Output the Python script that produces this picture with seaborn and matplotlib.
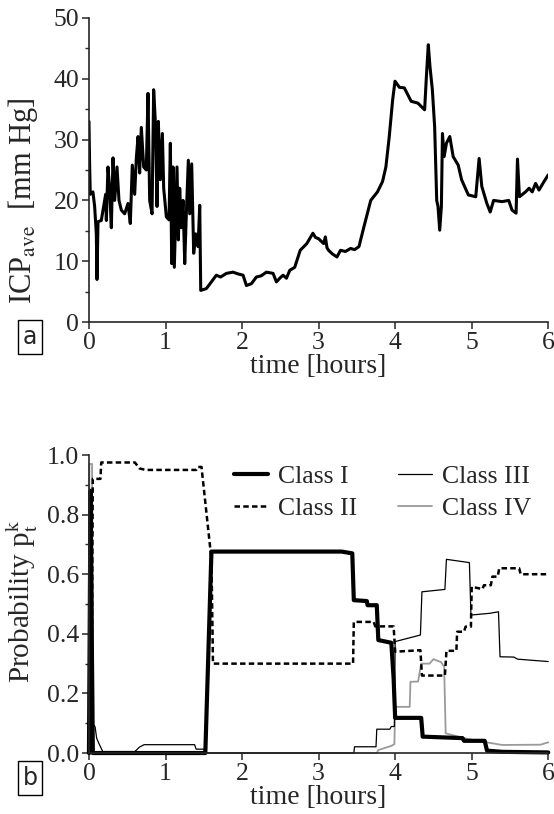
import numpy as np
import pandas as pd
import matplotlib
matplotlib.use("Agg")
import matplotlib.pyplot as plt
import seaborn as sns

# panel a: averaged ICP trace (hours, mm Hg)
t_icp = [0.0, 0.009, 0.017, 0.052, 0.074, 0.096, 0.105, 0.118, 0.161, 0.183,
         0.218, 0.227, 0.248, 0.270, 0.292, 0.314, 0.336, 0.366, 0.392, 0.423,
         0.466, 0.510, 0.540, 0.566, 0.597, 0.619, 0.641, 0.662, 0.684, 0.715,
         0.749, 0.771, 0.793, 0.824, 0.845, 0.871, 0.889, 0.906, 0.932, 0.959,
         0.976, 1.011, 1.046, 1.063, 1.081, 1.098, 1.115, 1.133, 1.150, 1.168,
         1.185, 1.207, 1.229, 1.251, 1.272, 1.298, 1.316, 1.342, 1.368, 1.394,
         1.425, 1.447, 1.460, 1.534, 1.599, 1.664, 1.720, 1.795, 1.882, 1.950,
         2.013, 2.057, 2.122, 2.187, 2.250, 2.318, 2.405, 2.449, 2.500, 2.536,
         2.580, 2.623, 2.688, 2.760, 2.846, 2.925, 2.960, 3.000, 3.066, 3.088,
         3.110, 3.130, 3.180, 3.240, 3.286, 3.350, 3.418, 3.470, 3.527, 3.593,
         3.681, 3.769, 3.835, 3.879, 3.923, 3.967, 3.998, 4.055, 4.120, 4.165,
         4.209, 4.297, 4.385, 4.407, 4.433, 4.455, 4.486, 4.516, 4.543, 4.560,
         4.582, 4.604, 4.618, 4.640, 4.670, 4.714, 4.758, 4.824, 4.868, 4.956,
         5.053, 5.097, 5.132, 5.198, 5.242, 5.286, 5.396, 5.484, 5.527, 5.580,
         5.598, 5.624, 5.703, 5.750, 5.791, 5.835, 5.879, 5.945, 6.0]
icp = [33, 25.5, 21, 21.4, 19, 14.5, 7, 16.5, 16.7, 18.4,
       21, 16.7, 25.5, 22, 15.5, 27, 20, 25.5, 20, 18.4,
       17.8, 19.5, 16.2, 25.8, 21, 27, 30.5, 24.5, 32, 25.5,
       25, 37.6, 20, 17.8, 38.2, 32, 19, 33, 23.4, 31,
       22, 17.3, 16.8, 29.4, 9.6, 25.5, 9, 17.8, 25.5, 13.5,
       22, 15.5, 20, 9.6, 17.8, 26.6, 17.8, 26, 11.3, 14.5,
       12.4, 19.2, 5.2, 5.5, 6.6, 7.7, 7.4, 8, 8.2, 7.9,
       7.7, 6, 6.3, 7.4, 7.6, 8.2, 8, 6.6, 7.3, 7.7,
       7.2, 8.5, 9, 11.8, 12.9, 14.6, 13.9, 13.7, 12.9, 14,
       12.2, 11.8, 11.2, 10.7, 11.8, 11.6, 12.1, 11.9, 12.4, 15.7,
       20, 21.4, 23.1, 25.5, 30.5, 36.5, 39.6, 38.6, 38.5, 37.4,
       36.3, 36, 34.9, 40.1, 45.6, 42, 38.2, 32.1, 20, 19,
       15.1, 19, 31, 27.2, 29.4, 30.5, 27.2, 25.8, 23.4, 20.9,
       20.6, 26.9, 22.3, 19.5, 18.1, 20, 19.8, 20, 18.4, 17.9,
       26.8, 20.6, 21.4, 22.0, 21.4, 22.8, 21.7, 23.1, 24.2]

# panel b: class probabilities
t_c1 = [0.0, 0.02, 0.05, 1.52, 1.60, 3.30, 3.44, 3.46, 3.63, 3.64, 3.76, 3.78,
        3.95, 3.98, 4.00, 4.34, 4.36, 4.88, 4.90, 5.17, 5.20, 5.40, 6.0]
p_c1 = [0.0, 0.88, 0.0, 0.0, 0.676, 0.676, 0.67, 0.513, 0.51, 0.496, 0.496, 0.379,
        0.37, 0.25, 0.118, 0.118, 0.055, 0.05, 0.041, 0.041, 0.008, 0.004, 0.002]

t_c2 = [0.0, 0.03, 0.05, 0.15, 0.16, 0.60, 0.66, 0.74, 1.40, 1.42,
        1.47, 1.60, 1.62, 3.45, 3.46, 3.72, 3.74, 3.98, 4.00, 4.33,
        4.35, 4.65, 4.67, 4.80, 4.81, 4.90, 4.92, 4.99, 5.00, 5.14,
        5.16, 5.25, 5.27, 5.34, 5.36, 5.62, 5.64, 6.0]
p_c2 = [0.0, 0.0, 0.92, 0.92, 0.975, 0.975, 0.955, 0.95, 0.95, 0.96,
        0.96, 0.65, 0.30, 0.30, 0.44, 0.44, 0.425, 0.425, 0.34, 0.345,
        0.26, 0.26, 0.343, 0.343, 0.407, 0.407, 0.424, 0.424, 0.558, 0.55,
        0.563, 0.563, 0.592, 0.592, 0.62, 0.62, 0.60, 0.60]

t_c3 = [0.0, 0.04, 0.08, 0.10, 0.13, 0.18, 0.60, 0.66, 0.72, 1.38,
        1.40, 1.50, 1.52, 3.46, 3.47, 3.75, 3.76, 3.93, 3.95, 3.99,
        4.00, 4.33, 4.35, 4.65, 4.67, 4.97, 4.99, 5.24, 5.35, 5.37,
        5.55, 5.60, 6.0]
p_c3 = [0.0, 0.10, 0.088, 0.05, 0.032, 0.005, 0.005, 0.02, 0.028, 0.028,
        0.013, 0.013, 0.0, 0.0, 0.021, 0.021, 0.08, 0.08, 0.089, 0.089,
        0.374, 0.396, 0.541, 0.549, 0.65, 0.639, 0.463, 0.469, 0.474, 0.323,
        0.322, 0.315, 0.307]

t_c4 = [0.0, 0.005, 0.04, 0.06, 3.76, 3.78, 3.95, 3.99, 4.00, 4.19, 4.20, 4.30,
        4.34, 4.45, 4.50, 4.60, 4.64, 4.66, 4.75, 4.90, 5.10, 5.40, 5.90, 6.0]
p_c4 = [0.12, 0.97, 0.97, 0.0, 0.0, 0.01, 0.024, 0.03, 0.155, 0.155, 0.239, 0.24,
        0.30, 0.30, 0.315, 0.305, 0.29, 0.066, 0.06, 0.05, 0.04, 0.027, 0.028, 0.036]

class_names = ["Class I", "Class II", "Class III", "Class IV"]

sns.set_style("ticks")
plt.rcParams['font.family'] = ['Liberation Serif', 'DejaVu Serif']
plt.rcParams['mathtext.fontset'] = 'stix'
plt.rcParams['axes.linewidth'] = 1.2

fs_tick = 18.5
fs_lab = 20
fig = plt.figure(figsize=(5.54, 8.14), dpi=100)
ax1 = fig.add_axes([0.1606, 0.6044, 0.829, 0.3735])
ax2 = fig.add_axes([0.1606, 0.0749, 0.829, 0.3661])

# panel a
icp_df = pd.DataFrame({"t": t_icp, "icp": icp})
sns.lineplot(data=icp_df, x="t", y="icp", ax=ax1, estimator=None, sort=False,
             color="black", lw=2.2)
ax1.set_xlim(0, 6)
ax1.set_ylim(0, 50)
ax1.set_yticks(range(0, 51, 10))
ax1.set_yticks(range(5, 50, 10), minor=True)
ax1.set_xticks(range(0, 7))
ax1.set_xlabel("time [hours]", fontsize=fs_lab, labelpad=0)
ax1.set_ylabel(r"ICP$_\mathrm{ave}$  [mm Hg]", fontsize=22)
ax1.yaxis.set_label_coords(-0.107, 0.40)

# panel b
styles = [dict(color="black", lw=3.0, ls="-"),
          dict(color="black", lw=1.8, ls=(0, (2.2, 1.3))),
          dict(color="black", lw=0.9, ls="-"),
          dict(color="#9a9a9a", lw=1.3, ls="-")]
series = [(t_c1, p_c1), (t_c2, p_c2), (t_c3, p_c3), (t_c4, p_c4)]
order = [3, 2, 1, 0]
for i in order:
    t, p = series[i]
    df = pd.DataFrame({"t": t, "p": p})
    sns.lineplot(data=df, x="t", y="p", ax=ax2, estimator=None, sort=False,
                 label=class_names[i], clip_on=False, **styles[i])
ax2.set_xlim(0, 6)
ax2.set_ylim(0, 1.0)
ax2.set_yticks(np.arange(0, 1.01, 0.2))
ax2.set_yticks(np.arange(0.1, 1.0, 0.2), minor=True)
ax2.set_yticklabels([f"{v:.1f}" for v in np.arange(0, 1.01, 0.2)])
ax2.set_xticks(range(0, 7))
ax2.set_xlabel("time [hours]", fontsize=fs_lab, labelpad=0)
ax2.set_ylabel(r"Probability p$_\mathrm{t}^\mathrm{k}$", fontsize=21)
ax2.yaxis.set_label_coords(-0.107, 0.51)

handles, labels = ax2.get_legend_handles_labels()
hmap = dict(zip(labels, handles))
ax2.legend([hmap[n] for n in class_names], class_names, ncol=2, frameon=False,
           loc="upper left", bbox_to_anchor=(0.272, 1.035), fontsize=fs_tick,
           handlelength=1.3, handletextpad=0.4, columnspacing=1.6,
           labelspacing=0.35, borderpad=0.3)

for ax in (ax1, ax2):
    sns.despine(ax=ax)
    ax.tick_params(which="major", direction="out", length=5, width=1.1,
                   labelsize=fs_tick, pad=2)
    ax.tick_params(which="minor", direction="out", length=3, width=1.0)

# panel letters
for label, y in (("a", 0.586), ("b", 0.044)):
    fig.text(0.054, y, label, fontsize=17, family="DejaVu Sans",
             ha="center", va="center",
             bbox=dict(boxstyle="square,pad=0.2", fc="white", ec="black", lw=1.0))

fig.savefig("out.png", dpi=100)
